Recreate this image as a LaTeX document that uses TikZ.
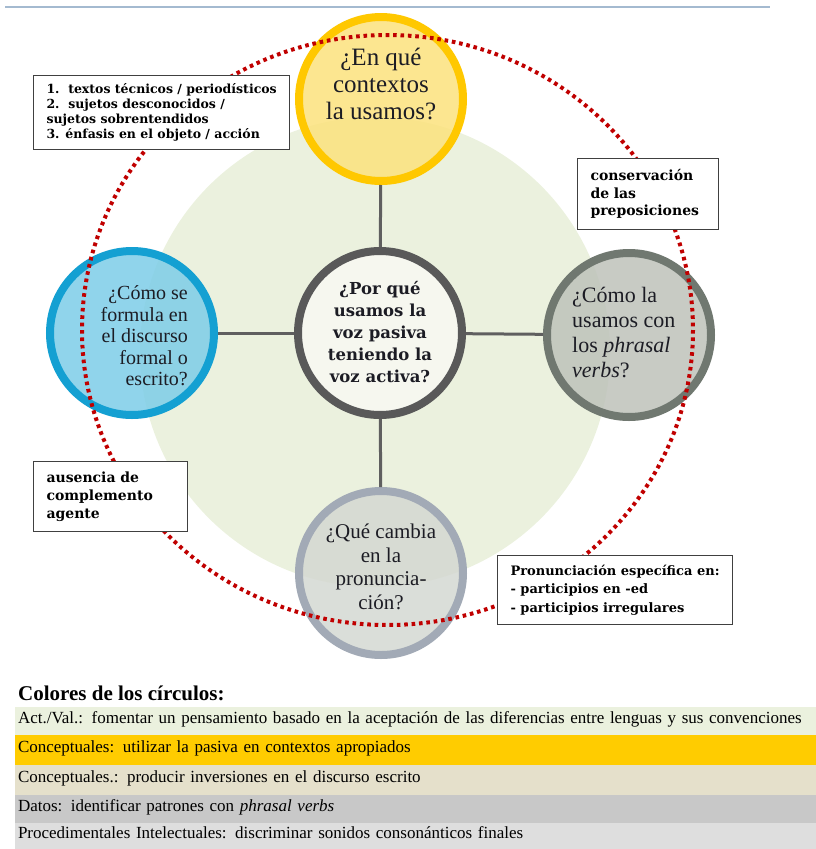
\documentclass[tikz,border=0pt]{standalone}
\usepackage{fontspec}
\setmainfont{Liberation Serif}[
  BoldFont={Liberation Serif Bold},
  ItalicFont={Liberation Serif Italic},
  BoldItalicFont={Liberation Serif Bold Italic}]
\newfontfamily\notefont{DejaVu Serif}
\usetikzlibrary{positioning}

\definecolor{toplinecolor}{RGB}{164,186,208}
\definecolor{disccolor}{RGB}{235,241,222}
\definecolor{ringcolor}{RGB}{192,0,0}
\definecolor{spokecolor}{RGB}{95,95,95}
\definecolor{inkcolor}{RGB}{28,28,36}
\definecolor{coreline}{RGB}{89,89,89}
\definecolor{corefill}{RGB}{248,249,242}
\definecolor{contextline}{RGB}{255,200,0}
\definecolor{contextfill}{RGB}{252,226,125}
\definecolor{formalline}{RGB}{20,160,210}
\definecolor{formalfill}{RGB}{125,205,232}
\definecolor{phrasalline}{RGB}{112,120,112}
\definecolor{phrasalfill}{RGB}{190,194,186}
\definecolor{pronline}{RGB}{162,170,182}
\definecolor{pronfill}{RGB}{212,216,210}
\definecolor{notecolor}{RGB}{64,64,64}
\definecolor{actvalcolor}{RGB}{235,241,222}
\definecolor{conceptcolor}{RGB}{255,204,0}
\definecolor{concepttwocolor}{RGB}{229,224,203}
\definecolor{datacolor}{RGB}{200,200,200}
\definecolor{procedcolor}{RGB}{222,222,222}
\tikzset{
  %% topic : one of the question circles (drawn empty)
  topic/.style={
    circle,
    line width=8pt,
    minimum size=164pt,
    inner sep=0pt,
    fill opacity=0.85
  },
  %% topictext : the question written in a circle
  topictext/.style={
    inner sep=0pt,
    text=inkcolor,
    align=center
  },
  %% spoke : line from the middle circle to an outer one
  spoke/.style={spokecolor, line width=3pt},
  %% dotring : the red dotted ring
  %% This is a path, use as
  %%    \draw [dotring] (centre) ellipse [...];
  dotring/.style={
    ringcolor,
    line width=4pt,
    dash pattern=on 3.6pt off 3.8pt
  },
  %% notebox : white box with a short note
  notebox/.style={
    rectangle,
    draw=notecolor,
    fill=white,
    line width=1pt,
    anchor=north west,
    align=left,
    inner xsep=13pt,
    inner ysep=0pt,
    text=black
  },
  %% keyrow : one band of the colour key
  keyrow/.style={
    rectangle,
    outer sep=0pt,
    inner xsep=3pt,
    inner ysep=0pt,
    minimum width=801pt,
    text width=795pt,
    text height=12pt,
    text depth=8pt,
    align=left,
    font=\fontsize{17}{20}\selectfont
  }
}

\begin{document}
\begin{tikzpicture}
  [x=1pt,
  y=-1pt]

  \useasboundingbox (0,0) rectangle (816,849);

  %% Line at the top of the page
  \draw [toplinecolor, line width=1.5pt] (5,7) -- (770,7);

  %% Green disc behind the circles
  \fill [disccolor] (375,352) circle [radius=235];

  %%% Circles
  \node (core) [topic, draw=coreline, fill=corefill] at (380,333) {};
  \node (contexts) [topic, draw=contextline, fill=contextfill] at (381,99) {};
  \node (formal) [topic, draw=formalline, fill=formalfill] at (132,333) {};
  \node (phrasal) [topic, draw=phrasalline, fill=phrasalfill] at (629,335) {};
  \node (pronun) [topic, draw=pronline, fill=pronfill] at (381,573) {};

  %% Spokes
  \draw [spoke] (core) -- (contexts);
  \draw [spoke] (core) -- (formal);
  \draw [spoke] (core) -- (phrasal);
  \draw [spoke] (core) -- (pronun);

  %% Questions
  \node (core-t) [topictext, font=\notefont\bfseries\fontsize{16.5}{22}\selectfont]
  at (380,332) {%
    ¿Por qué\\
    usamos la\\
    voz pasiva\\
    teniendo la\\
    voz activa?
  };

  \node (contexts-t) [topictext, font=\fontsize{25}{27}\selectfont]
  at (381,84) {%
    ¿En qué\\
    contextos\\
    la usamos?
  };

  \node (formal-t) [topictext, align=right, anchor=east, font=\fontsize{20}{21.5}\selectfont]
  at (188,336) {%
    ¿Cómo se\\
    formula en\\
    el discurso\\
    formal o\\
    escrito?
  };

  \node (phrasal-t) [topictext, align=left, anchor=west, font=\fontsize{22}{25}\selectfont]
  at (572,333) {%
    ¿Cómo la\\
    usamos con\\
    los \textit{phrasal}\\
    \textit{verbs}?
  };

  \node (pronun-t) [topictext, font=\fontsize{21}{23.5}\selectfont]
  at (381,567) {%
    ¿Qué cambia\\
    en la\\
    pronuncia-\\
    ción?
  };

  %% Dotted ring, over the circles
  \draw [dotring] (387.5,330) ellipse [x radius=305.5, y radius=295];

  %%% Notes
  \node (uses) [notebox, minimum width=255pt, minimum height=74pt,
  font=\notefont\bfseries\fontsize{12.5}{15}\selectfont] at (33,75) {%
    1.\ \ textos técnicos / periodísticos\\
    2.\ \ sujetos desconocidos /\\
    sujetos sobrentendidos\\
    3. énfasis en el objeto / acción
  };

  \node (prepos) [notebox, minimum width=141pt, minimum height=71pt, text width=115pt,
  font=\notefont\bfseries\fontsize{14}{17.5}\selectfont] at (577,158) {%
    conservación\\
    de las\\
    preposiciones
  };

  \node (agent) [notebox, minimum width=154pt, minimum height=70pt, text width=128pt,
  font=\notefont\bfseries\fontsize{14}{18}\selectfont] at (33,461) {%
    ausencia de\\
    complemento\\
    agente
  };

  \node (endings) [notebox, minimum width=230pt, minimum height=69pt,
  font=\notefont\bfseries\fontsize{13}{18.5}\selectfont] at (497,555) {%
    Pronunciación específica en:\\
    - participios en -ed\\
    - participios irregulares
  };

  %%% Colour key
  \node (keytitle) [anchor=base west, inner sep=0pt,
  font=\bfseries\fontsize{21}{24}\selectfont] at (18,700) {%
    Colores de los círculos:
  };

  \node (actval) [keyrow, fill=actvalcolor, minimum height=28pt, anchor=north west]
  at (15,707) {%
    Act./Val.: fomentar un pensamiento basado en la aceptación de las diferencias entre lenguas y sus convenciones
  };
  \node (concept) [keyrow, fill=conceptcolor, minimum height=30pt, below=0pt of actval]{%
    Conceptuales: utilizar la pasiva en contextos apropiados
  };
  \node (concepttwo) [keyrow, fill=concepttwocolor, minimum height=30pt, below=0pt of concept]{%
    Conceptuales.: producir inversiones en el discurso escrito
  };
  \node (data) [keyrow, fill=datacolor, minimum height=28pt, below=0pt of concepttwo]{%
    Datos: identificar patrones con \textit{phrasal verbs}
  };
  \node (proced) [keyrow, fill=procedcolor, minimum height=26pt, below=0pt of data]{%
    Procedimentales Intelectuales: discriminar sonidos consonánticos finales
  };

\end{tikzpicture}
\end{document}
